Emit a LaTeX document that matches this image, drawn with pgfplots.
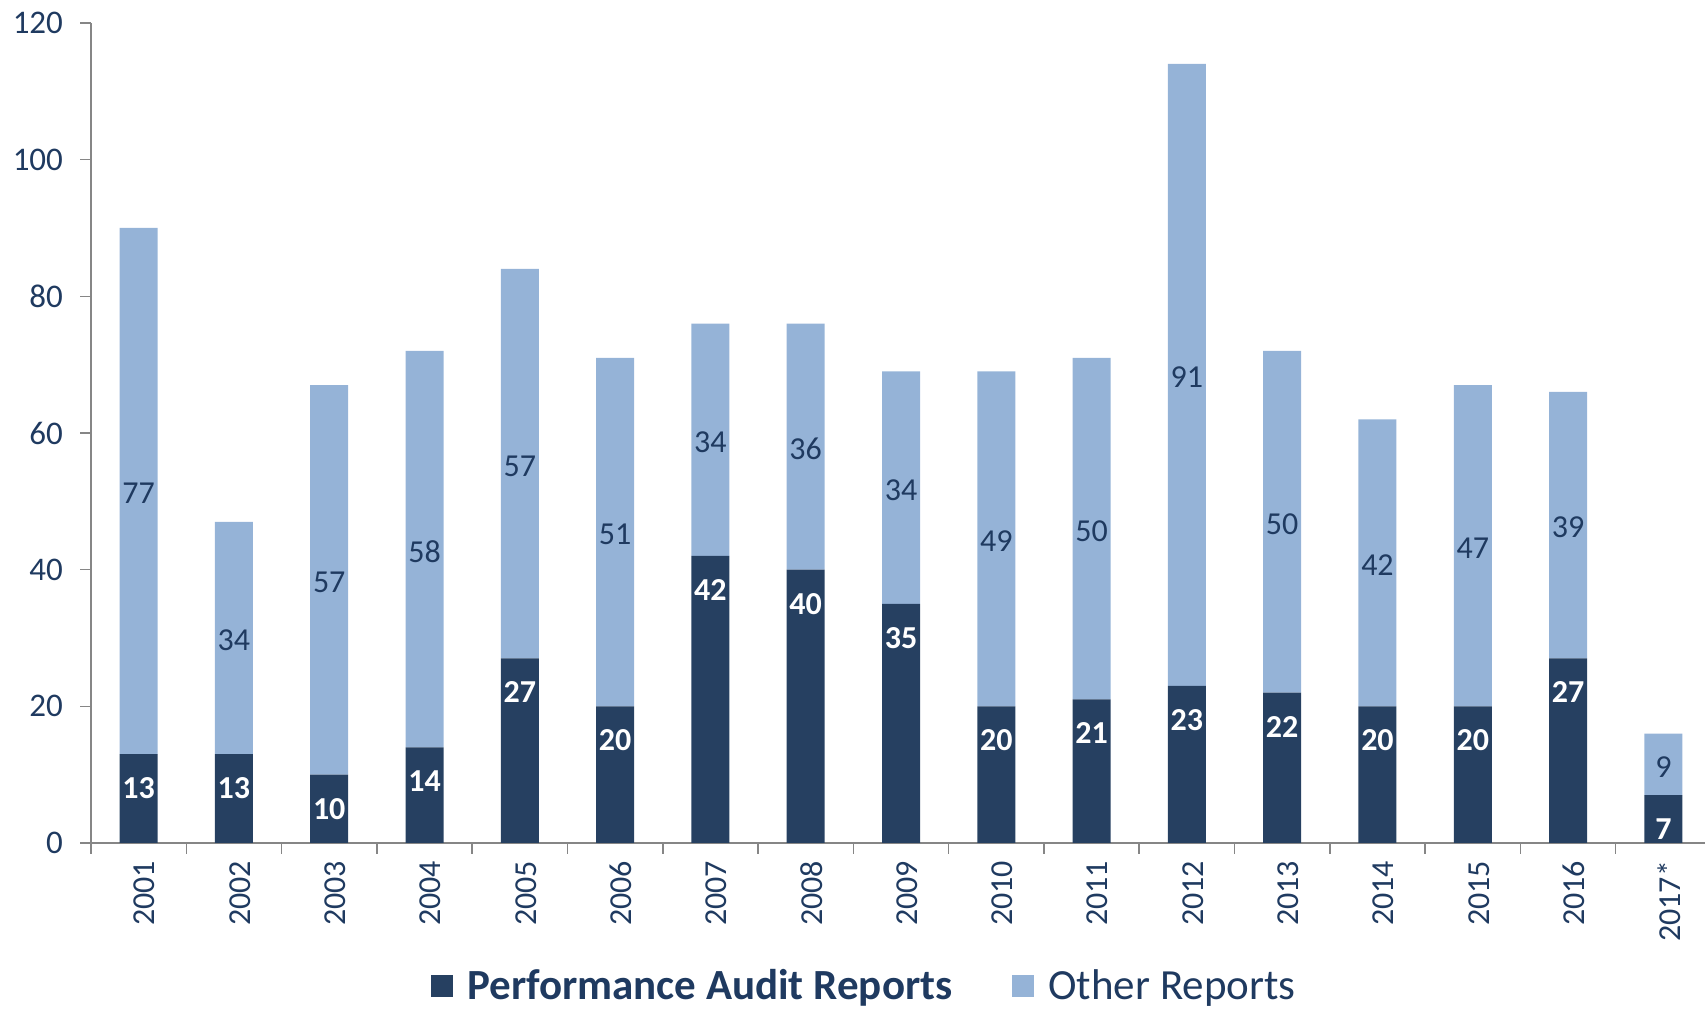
\documentclass[border=0pt]{standalone}
\usepackage{pgfplots}
\pgfplotsset{compat=1.18}
\usepackage{pgfplotstable}
\usepackage{fontspec}
\setmainfont{Carlito}
\definecolor{pa}{HTML}{264061}
\definecolor{oth}{HTML}{95B3D7}
\definecolor{txt}{HTML}{1F3A60}
\definecolor{axg}{HTML}{868686}

\pgfplotstableread{
x pa oth
0 13 77
1 13 34
2 10 57
3 14 58
4 27 57
5 20 51
6 42 34
7 40 36
8 35 34
9 20 49
10 21 50
11 23 91
12 22 50
13 20 42
14 20 47
15 27 39
16 7 9
}\dataall

\begin{document}
\begin{tikzpicture}
\useasboundingbox (0pt,0pt) rectangle (852.5pt,505pt);
\begin{axis}[
  at={(45.5pt,83.5pt)}, anchor=south west,
  scale only axis, width=810pt, height=410pt,
  xmin=-0.5, xmax=16.5, ymin=0, ymax=120,
  enlargelimits=false,
  ybar stacked, bar width=19pt,
  axis lines*=left,
  axis line style={axg, line width=0.75pt},
  tick style={axg, line width=0.75pt},
  tick align=outside, major tick length=5.5pt,
  xtick={-0.5,0.5,...,16.5}, x tick label as interval,
  xticklabels={2001,2002,2003,2004,2005,2006,2007,2008,2009,2010,2011,2012,2013,2014,2015,2016,2017*},
  ytick={0,20,...,120},
  y tick label style={font=\fontsize{16.5}{19}\selectfont, text=txt, xshift=-5pt},
  x tick label style={font=\fontsize{16}{18}\selectfont, text=txt, rotate=90, anchor=east, yshift=-3pt},
  /pgf/number format/assume math mode=true,
  point meta=explicit,
  legend style={at={(0.478,-0.174)}, anchor=center, draw=none, fill=none, legend columns=2,
    font=\fontsize{21.5}{25}\selectfont, text=txt,
    nodes={inner ysep=0.5pt},
    /tikz/every odd column/.append style={column sep=5pt},
    /tikz/every even column/.append style={column sep=28pt}},
  legend image code/.code={\fill[#1] (0pt,-5.5pt) rectangle (11pt,5.5pt);},
]
\addplot[fill=pa, draw=none, nodes near coords,
  visualization depends on={rawy \as \val},
  every node near coord/.style={anchor=center, yshift={\val*1.708333pt-17pt}, text=white, font=\bfseries\fontsize{16}{19}\selectfont}]
  table[x=x, y=pa, meta=pa] {\dataall};
\addplot[fill=oth, draw=none, nodes near coords,
  every node near coord/.style={anchor=center, yshift=-1.2pt, text=txt, font=\fontsize{16}{19}\selectfont}]
  table[x=x, y=oth, meta=oth] {\dataall};
\legend{\textbf{Performance Audit Reports}, Other Reports}
\end{axis}
\end{tikzpicture}
\end{document}
